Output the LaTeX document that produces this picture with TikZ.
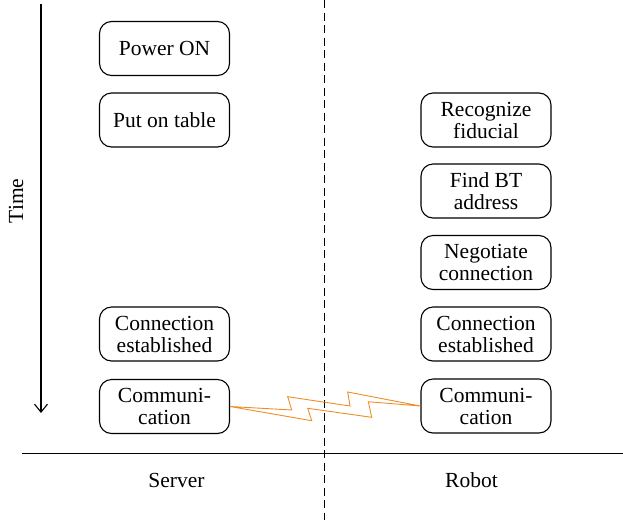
\documentclass[tikz,border=0pt]{standalone}
\usepackage{fontspec}
\setmainfont{Liberation Serif}
\usetikzlibrary{arrows.meta}
\definecolor{boltorange}{RGB}{238,141,38}
\tikzset{
  stepbox/.style={draw, line width=1.1pt, rounded corners=12pt,
    minimum width=130pt, minimum height=54pt, inner sep=0pt,
    align=center, font=\rmfamily\fontsize{21.5}{22}\selectfont},
  lbl/.style={font=\rmfamily\fontsize{21.5}{22}\selectfont},
  rule/.style={line width=1.2pt},
  bolt/.style={draw=boltorange, line width=0.9pt, line join=miter},
}
\begin{document}
\begin{tikzpicture}[x=1pt, y=-1pt]
\useasboundingbox (0,0) rectangle (623,520);

% time axis
\coordinate (t0) at (41,4);
\coordinate (t1) at (41,413);
\draw[rule, -{Straight Barb[length=8pt,width=13pt,line width=1.1pt]}] (t0) -- (t1);
\node[lbl, rotate=90] (time) at (16,201) {Time};

% separator between server and robot
\coordinate (d0) at (324.3,0);
\coordinate (d1) at (324.3,520);
\draw[line width=1.1pt, dash pattern=on 8pt off 4.5pt] (d0) -- (d1);

% baseline
\coordinate (b0) at (22,453.3);
\coordinate (b1) at (623,453.3);
\draw[rule] (b0) -- (b1);

\node[lbl] (server) at (176.5,480) {Server};
\node[lbl] (robot) at (471.5,480) {Robot};

% server steps
\node[stepbox] (s1) at (164.5,48.5) {Power ON};
\node[stepbox] (s2) at (164.5,120) {Put on table};
\node[stepbox] (s3) at (164.5,334) {Connection\\established};
\node[stepbox] (s4) at (164.5,406.5) {Communi-\\cation};

% robot steps
\node[stepbox] (r1) at (486,120) {Recognize\\fiducial};
\node[stepbox] (r2) at (486,191) {Find BT\\address};
\node[stepbox] (r3) at (486,262.5) {Negotiate\\connection};
\node[stepbox] (r4) at (486,334) {Connection\\established};
\node[stepbox] (r5) at (486,406) {Communi-\\cation};

% wireless link
\draw[bolt] (s4.east) -- (291.7,410) -- (287.7,396.7) -- (350,406) -- (347.7,392)
  -- (r5.west) -- (368.3,401.7) -- (371.7,417.3) -- (307.7,408.3) -- (311.7,420.7)
  -- cycle;
\end{tikzpicture}
\end{document}
